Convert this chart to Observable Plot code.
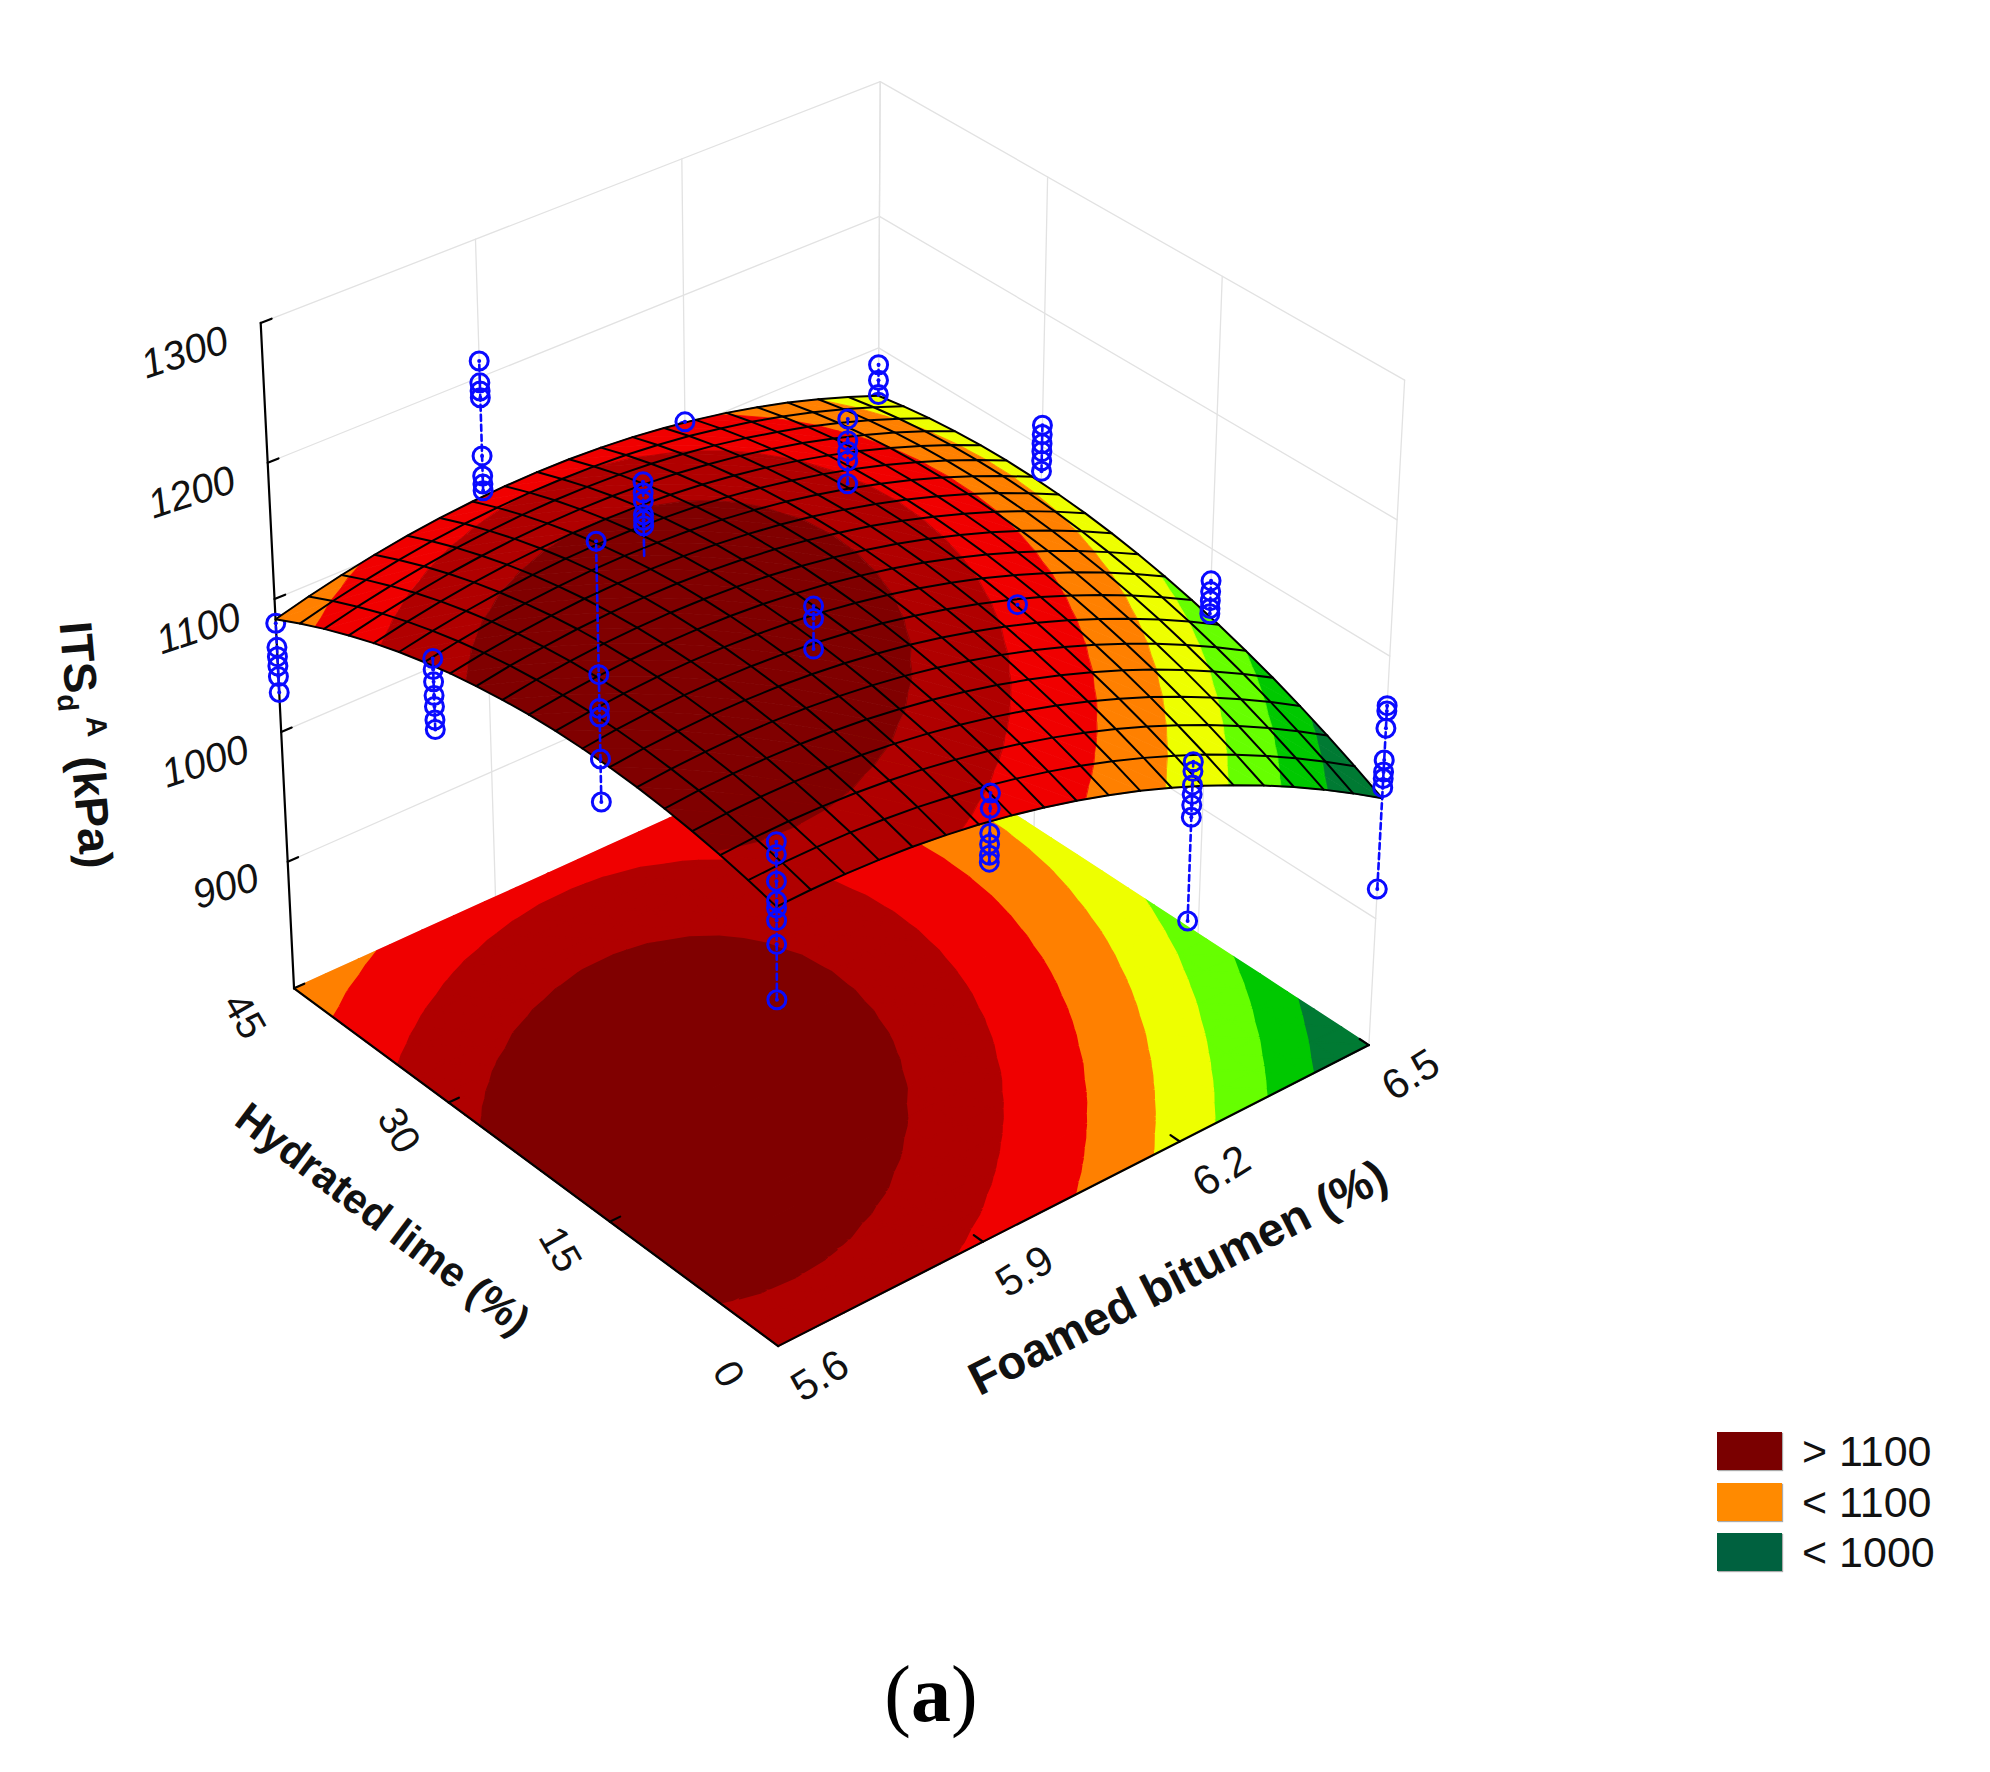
<!DOCTYPE html>
<html>
<head>
<meta charset="utf-8">
<script src="https://cdn.jsdelivr.net/npm/d3@7"></script>
<script src="https://cdn.jsdelivr.net/npm/@observablehq/plot@0.6"></script>
<style>
html,body{margin:0;padding:0;background:#fff;overflow:hidden}
#wrap{position:relative;width:1990px;height:1772px;font-family:"Liberation Sans",Arial,sans-serif}
#legend{position:absolute;left:1717px;top:1432px}
.row{position:absolute;left:0;width:240px;height:38px}
.sw{position:absolute;left:0;top:0;width:65px;height:38px;box-shadow:1px 1px 1px #aaa}
.lb{position:absolute;left:85px;top:-4px;font-size:43px;line-height:46px;color:#111;white-space:pre}
#cap{position:absolute;left:0;width:1862px;top:1648px;text-align:center;font:80px/92px "Liberation Serif",serif;color:#000}
</style>
</head>
<body>
<div id="wrap">
<div id="chart"></div>
<div id="legend"></div>
<div id="cap">(<b>a</b>)</div>
</div>
<script>
// ---------- axis ticks ----------
const bitumenTicks = [5.6, 5.9, 6.2, 6.5];
const limeTicks = [0, 15, 30, 45];
const itsTicks = [900, 1000, 1100, 1200, 1300];
const itsFloor = 800;

// ---------- contour bands ----------
const bandLevels = [-Infinity, 1020, 1040, 1060, 1080, 1100, 1120, 1137, Infinity];
const bandColors = ["#007a33", "#00c800", "#66ff00", "#eeff00", "#ff8000", "#f00000", "#b00000", "#800000"];

// ---------- legend ----------
const legendLabels = ["> 1100", "< 1100", "< 1000"];
const legendColors = ["#7a0000", "#ff8a00", "#00613f"];

// ---------- measured ITS per bitumen (rows) / lime (columns 0,15,30,45) ----------
const measured56 = [
  [1173,1164,1145,1131,1126,1117,1100,1060],
  [1300,1207,1183,1177,1147,1116],
  [1137,1129,1120,1110,1102,1092,1085],
  [1082,1064,1057,1050,1042,1030]
];
const measured59 = [
  [1137,1126,1108,1100,1092,1087],
  [1189,1180,1158],
  [1200,1192,1186,1176,1172,1168,1140],
  [1212,1196,1190,1185,1142,1127,1121,1116]
];
const measured62 = [
  [1090,1083,1073,1066,1058,1049,971],
  [1124],
  [1183,1167,1159,1152,1135],
  [1105,1098]
];
const measured65 = [
  [1063,1059,1046,1022,1013,1008,1001,923],
  [1076,1068,1061,1055,1051],
  [1116,1109,1102,1096,1089,1081],
  [1087,1075,1064,1058]
];
const measured = [measured56, measured59, measured62, measured65];

// ---------- fitted surface, read per mesh node: row = bitumen 5.6..6.5, column = lime 0..45 ----------
const surface = [
[1127.0,1132.1,1136.4,1139.9,1142.6,1144.5,1145.5,1145.7,1145.2,1143.8,1141.5,1138.5,1134.7,1130.0,1124.6,1118.3,1111.2,1103.3,1094.5,1085.0],
[1127.6,1133.1,1137.7,1141.5,1144.5,1146.6,1148.0,1148.5,1148.3,1147.2,1145.3,1142.6,1139.0,1134.7,1129.5,1123.6,1116.8,1109.2,1100.8,1091.5],
[1127.4,1133.1,1138.1,1142.2,1145.5,1147.9,1149.6,1150.5,1150.5,1149.7,1148.1,1145.7,1142.5,1138.5,1133.6,1128.0,1121.5,1114.2,1106.1,1097.2],
[1126.3,1132.4,1137.6,1142.0,1145.6,1148.4,1150.4,1151.6,1151.9,1151.4,1150.2,1148.1,1145.2,1141.4,1136.9,1131.6,1125.4,1118.4,1110.6,1102.0],
[1124.4,1130.7,1136.3,1141.0,1144.9,1148.0,1150.3,1151.8,1152.5,1152.3,1151.3,1149.6,1147.0,1143.5,1139.3,1134.3,1128.4,1121.8,1114.3,1106.0],
[1121.6,1128.3,1134.1,1139.2,1143.4,1146.8,1149.4,1151.2,1152.2,1152.3,1151.7,1150.2,1147.9,1144.8,1140.9,1136.1,1130.6,1124.2,1117.1,1109.1],
[1118.0,1124.9,1131.1,1136.5,1141.0,1144.7,1147.6,1149.7,1151.0,1151.5,1151.1,1150.0,1148.0,1145.2,1141.6,1137.2,1131.9,1125.9,1119.0,1111.3],
[1113.5,1120.8,1127.2,1132.9,1137.7,1141.8,1145.0,1147.4,1149.0,1149.8,1149.7,1148.9,1147.2,1144.7,1141.4,1137.3,1132.4,1126.7,1120.1,1112.7],
[1108.1,1115.7,1122.5,1128.5,1133.6,1138.0,1141.5,1144.2,1146.1,1147.2,1147.5,1146.9,1145.6,1143.4,1140.4,1136.6,1132.0,1126.6,1120.3,1113.3],
[1101.9,1109.8,1116.9,1123.2,1128.7,1133.3,1137.2,1140.2,1142.4,1143.8,1144.4,1144.2,1143.1,1141.3,1138.6,1135.1,1130.8,1125.7,1119.7,1113.0],
[1094.9,1103.1,1110.5,1117.1,1122.9,1127.8,1132.0,1135.3,1137.8,1139.5,1140.4,1140.5,1139.8,1138.2,1135.9,1132.7,1128.7,1123.9,1118.3,1111.8],
[1087.0,1095.5,1103.2,1110.1,1116.2,1121.5,1125.9,1129.6,1132.4,1134.4,1135.6,1136.0,1135.6,1134.4,1132.3,1129.4,1125.7,1121.2,1115.9,1109.8],
[1078.2,1087.0,1095.1,1102.3,1108.7,1114.3,1119.0,1123.0,1126.1,1128.5,1130.0,1130.7,1130.6,1129.6,1127.9,1125.3,1122.0,1117.8,1112.8,1106.9],
[1068.6,1077.7,1086.1,1093.6,1100.3,1106.2,1111.3,1115.6,1119.0,1121.6,1123.5,1124.5,1124.7,1124.1,1122.6,1120.4,1117.3,1113.4,1108.7,1103.2],
[1058.1,1067.6,1076.2,1084.1,1091.1,1097.3,1102.7,1107.3,1111.0,1114.0,1116.1,1117.4,1117.9,1117.6,1116.5,1114.6,1111.8,1108.2,1103.9,1098.7],
[1046.8,1056.6,1065.5,1073.7,1081.0,1087.5,1093.2,1098.1,1102.2,1105.4,1107.9,1109.5,1110.3,1110.3,1109.5,1107.9,1105.4,1102.2,1098.1,1093.2],
[1034.6,1044.7,1054.0,1062.4,1070.1,1076.9,1082.9,1088.1,1092.5,1096.1,1098.8,1100.8,1101.9,1102.2,1101.7,1100.4,1098.2,1095.3,1091.5,1087.0],
[1021.6,1032.0,1041.6,1050.3,1058.3,1065.4,1071.8,1077.3,1082.0,1085.8,1088.9,1091.2,1092.6,1093.2,1093.0,1092.0,1090.2,1087.5,1084.1,1079.8],
[1007.7,1018.4,1028.3,1037.4,1045.7,1053.1,1059.8,1065.6,1070.6,1074.7,1078.1,1080.7,1082.4,1083.4,1083.5,1082.8,1081.3,1078.9,1075.8,1071.8],
[993.0,1004.0,1014.2,1023.6,1032.2,1039.9,1046.9,1053.0,1058.3,1062.8,1066.5,1069.4,1071.4,1072.7,1073.1,1072.7,1071.5,1069.5,1066.7,1063.0]
];

// ---------- 3D camera: calibrated from the box corners [bitumen, lime, ITS] -> picture ----------
const cameraAnchors = [
  [5.6, 0, 800, 775, 1346], [5.6, 45, 800, 291, 987], [6.5, 0, 800, 1371, 1043], [6.5, 45, 800, 878, 730],
  [5.6, 45, 1300, 259, 322], [6.5, 45, 1300, 877, 82], [6.5, 0, 1300, 1404, 376], [5.6, 0, 1300, 778, 664],
  [5.6, 45, 900, 287, 858], [5.6, 45, 1000, 282, 729], [5.6, 45, 1100, 276, 597], [5.6, 45, 1200, 267, 462],
  [5.6, 15, 800, 612, 1226], [5.6, 30, 800, 449, 1102], [5.9, 0, 800, 979, 1240], [6.2, 0, 800, 1178, 1138]
];
const norm = (b, l, z) => [(b - 5.6) / 0.9, l / 45, (z - 800) / 500];
const camera = (() => {
  const n = 11, A = Array.from({length: n}, () => new Array(n + 1).fill(0));
  const add = (r, y) => { for (let a = 0; a < n; a++) { for (let c = 0; c < n; c++) A[a][c] += r[a] * r[c]; A[a][n] += r[a] * y; } };
  for (const [b, l, z, sx, sy] of cameraAnchors) {
    const [u, v, t] = norm(b, l, z), x = sx / 1000, y = sy / 1000;
    add([u, v, t, 1, 0, 0, 0, 0, -x * u, -x * v, -x * t], x);
    add([0, 0, 0, 0, u, v, t, 1, -y * u, -y * v, -y * t], y);
  }
  for (let c = 0; c < n; c++) {
    let p = c; for (let r = c + 1; r < n; r++) if (Math.abs(A[r][c]) > Math.abs(A[p][c])) p = r;
    [A[c], A[p]] = [A[p], A[c]];
    for (let r = 0; r < n; r++) if (r !== c) { const f = A[r][c] / A[c][c]; for (let k = c; k <= n; k++) A[r][k] -= f * A[c][k]; }
  }
  return A.map((row, i) => row[n] / row[i]);
})();
function project(b, l, z) {
  const [u, v, t] = norm(b, l, z), p = camera;
  const w = p[8] * u + p[9] * v + p[10] * t + 1;
  return [1000 * (p[0] * u + p[1] * v + p[2] * t + p[3]) / w, 1000 * (p[4] * u + p[5] * v + p[6] * t + p[7]) / w];
}
const X = d => project(d.b, d.l, d.z)[0];
const Y = d => project(d.b, d.l, d.z)[1];

// ---------- mesh helpers ----------
const N = surface.length - 1;
const bOf = i => 5.6 + 0.9 * i / N;
const lOf = j => 45 * j / N;
function surfaceAt(b, l) {
  const fi = (b - 5.6) / 0.9 * N, fj = l / 45 * N;
  const i = Math.min(N - 1, Math.floor(fi)), j = Math.min(N - 1, Math.floor(fj)), a = fi - i, c = fj - j;
  return (1 - a) * ((1 - c) * surface[i][j] + c * surface[i][j + 1]) + a * ((1 - c) * surface[i + 1][j] + c * surface[i + 1][j + 1]);
}
function clip(poly, level, keepAbove) {
  const out = [];
  const inside = p => keepAbove ? p.val >= level : p.val <= level;
  poly.forEach((p, k) => {
    const q = poly[(k + 1) % poly.length], ip = inside(p), iq = inside(q);
    if (ip) out.push(p);
    if (ip !== iq) {
      const s = (level - p.val) / (q.val - p.val);
      out.push({fi: p.fi + s * (q.fi - p.fi), fj: p.fj + s * (q.fj - p.fj), val: level});
    }
  });
  return out;
}
// split each mesh cell by contour band, back of the surface first
function bandPieces(flat) {
  const rows = [];
  let id = 0;
  for (let i = N - 1; i >= 0; i--) for (let j = N - 1; j >= 0; j--) {
    const c = (a, e) => ({fi: a, fj: e, val: surface[a][e]});
    for (const tri of [[c(i + 1, j + 1), c(i + 1, j), c(i, j + 1)], [c(i + 1, j), c(i, j + 1), c(i, j)]]) {
      bandColors.forEach((color, k) => {
        let poly = clip(tri, bandLevels[k], true);
        if (poly.length) poly = clip(poly, bandLevels[k + 1], false);
        if (poly.length < 3) return;
        id++;
        for (const p of poly) rows.push({id, color, b: 5.6 + 0.9 * p.fi / N, l: 45 * p.fj / N, z: flat ?? p.val});
      });
    }
  }
  return rows;
}
const floorRows = bandPieces(itsFloor);
const surfaceRows = bandPieces(null);

// mesh lines
const meshRows = [];
for (let i = 0; i <= N; i++) for (let j = 0; j <= N; j++) meshRows.push({id: "b" + i, b: bOf(i), l: lOf(j), z: surface[i][j]});
for (let j = 0; j <= N; j++) for (let i = 0; i <= N; i++) meshRows.push({id: "l" + j, b: bOf(i), l: lOf(j), z: surface[i][j]});

// walls
const gridRows = [];
let gid = 0;
const seg = (a, c) => { gid++; gridRows.push({id: gid, b: a[0], l: a[1], z: a[2]}, {id: gid, b: c[0], l: c[1], z: c[2]}); };
for (const z of itsTicks) { seg([5.6, 45, z], [6.5, 45, z]); seg([6.5, 45, z], [6.5, 0, z]); }
for (const b of bitumenTicks.slice(1)) seg([b, 45, 800], [b, 45, 1300]);
for (const l of limeTicks) seg([6.5, l, 800], [6.5, l, 1300]);
seg([5.6, 45, 800], [6.5, 45, 800]);
seg([6.5, 45, 800], [6.5, 0, 800]);

// black axes + ticks
const axisRows = [];
let aid = 0;
const aseg = (a, c) => { aid++; axisRows.push({id: aid, b: a[0], l: a[1], z: a[2]}, {id: aid, b: c[0], l: c[1], z: c[2]}); };
aseg([5.6, 0, 800], [5.6, 45, 800]);
aseg([5.6, 0, 800], [6.5, 0, 800]);
aseg([5.6, 45, 800], [5.6, 45, 1300]);
for (const z of itsTicks) aseg([5.6, 45, z], [5.615, 45, z]);
for (const l of limeTicks.slice(1)) aseg([5.6, l, 800], [5.615, l, 800]);
for (const b of bitumenTicks.slice(1)) aseg([b, 0, 800], [b, 0.8, 800]);

// measured points split into below / above surface
const dotsBelow = [], dotsAbove = [], stemBelow = [], stemAbove = [];
measured.forEach((byLime, bi) => byLime.forEach((values, li) => {
  const b = bitumenTicks[bi], l = limeTicks[li], s = surfaceAt(b, l), id = b + "_" + l;
  const top = d3.max(values), bot = d3.min(values);
  for (const z of values) (z >= s ? dotsAbove : dotsBelow).push({b, l, z});
  if (bot < s) { const hi = Math.min(top, s); stemBelow.push({id, b, l, z: bot}, {id, b, l, z: hi}); }
  if (top > s) { const lo = Math.max(bot, s); stemAbove.push({id, b, l, z: lo}, {id, b, l, z: top}); }
}));

const pointBlue = "#0a0aff";
const stemOpts = {x: X, y: Y, z: "id", stroke: pointBlue, strokeWidth: 2.6, strokeDasharray: "6,4"};
const ringOpts = {x: X, y: Y, r: 9, stroke: pointBlue, strokeWidth: 3, fill: "none"};
const pipOpts = {x: X, y: Y, r: 2, fill: pointBlue};

const font = "Liberation Sans, Arial, sans-serif";
const at = (b, l, z) => ({b, l, z});
const itsLabel = {x: X, y: Y, text: d => String(d.z), rotate: -18, fontSize: 40, fontStyle: "italic", fontFamily: font, fill: "#111", textAnchor: "middle"};

const plot = Plot.plot({
  width: 1990, height: 1772, margin: 0,
  x: {domain: [0, 1990], range: [0, 1990], axis: null},
  y: {domain: [0, 1772], range: [0, 1772], axis: null},
  color: {type: "identity"},
  marks: [
    Plot.line(gridRows, {x: X, y: Y, z: "id", stroke: "#e2e2e2", strokeWidth: 1.3}),
    Plot.line(floorRows, {x: X, y: Y, z: "id", fill: "color", stroke: "color", strokeWidth: 1.6, curve: "linear-closed"}),
    Plot.line(axisRows, {x: X, y: Y, z: "id", stroke: "#000", strokeWidth: 2.2}),
    Plot.line(stemBelow, stemOpts),
    Plot.dot(dotsBelow, ringOpts),
    Plot.dot(dotsBelow, pipOpts),
    Plot.line(surfaceRows, {x: X, y: Y, z: "id", fill: "color", stroke: "color", strokeWidth: 0.8, curve: "linear-closed"}),
    Plot.line(meshRows, {x: X, y: Y, z: "id", stroke: "#000", strokeWidth: 2}),
    Plot.line(stemAbove, stemOpts),
    Plot.dot(dotsAbove, ringOpts),
    Plot.dot(dotsAbove, pipOpts),
    // tick labels
    Plot.text(itsTicks.filter(z => z >= 1000).map(z => at(5.6, 45, z)), {...itsLabel, dx: -76, dy: 30}),
    Plot.text(itsTicks.filter(z => z < 1000).map(z => at(5.6, 45, z)), {...itsLabel, dx: -62, dy: 25}),
    Plot.text(limeTicks.map(l => at(5.6, l, 800)), {x: X, y: Y, text: d => String(d.l), dx: -50, dy: 28, rotate: 60, fontSize: 40, fontFamily: font, fill: "#111", textAnchor: "middle"}),
    Plot.text(bitumenTicks.map(b => at(b, 0, 800)), {x: X, y: Y, text: d => d.b.toFixed(1), dx: 42, dy: 30, rotate: -32, fontSize: 42, fontFamily: font, fill: "#111", textAnchor: "middle"}),
    // axis titles
    Plot.text([at(6.05, 0, 800)], {x: X, y: Y, text: () => "Foamed bitumen (%)", dx: 96, dy: 87, rotate: -27, fontSize: 47, fontWeight: "bold", fontFamily: font, fill: "#111", textAnchor: "middle"}),
    Plot.text([at(5.6, 22.5, 800)], {x: X, y: Y, text: () => "Hydrated lime (%)", dx: -146, dy: 58, rotate: 37, fontSize: 42, fontWeight: "bold", fontFamily: font, fill: "#111", textAnchor: "middle"}),
    Plot.text([at(5.6, 45, 1050)], {x: X, y: Y, text: () => "ITSdA (kPa)", dx: -193, dy: 79, rotate: 85, fontSize: 46, fontWeight: "bold", fontFamily: font, fill: "#111", textAnchor: "middle"})
  ]
});
document.getElementById("chart").appendChild(plot);

// ITS with sub- and superscript as real text
for (const t of plot.querySelectorAll("text")) {
  const inner = t.querySelector("tspan") || t;
  if (t.textContent === "ITSdA (kPa)") {
    inner.innerHTML = '<tspan>ITS</tspan><tspan dy="0.3em" font-size="0.62em">d</tspan><tspan dy="-0.95em" dx="0.25em" font-size="0.62em">A</tspan><tspan dy="0.4em" dx="0.4em">(kPa)</tspan>';
  }
}

// legend
const legend = document.getElementById("legend");
legendLabels.forEach((label, k) => {
  const row = document.createElement("div");
  row.className = "row";
  row.style.top = (k * 50.5) + "px";
  row.innerHTML = `<div class="sw" style="background:${legendColors[k]}"></div><div class="lb">${label.replace("<", "&lt;")}</div>`;
  legend.appendChild(row);
});
</script>
</body>
</html>
